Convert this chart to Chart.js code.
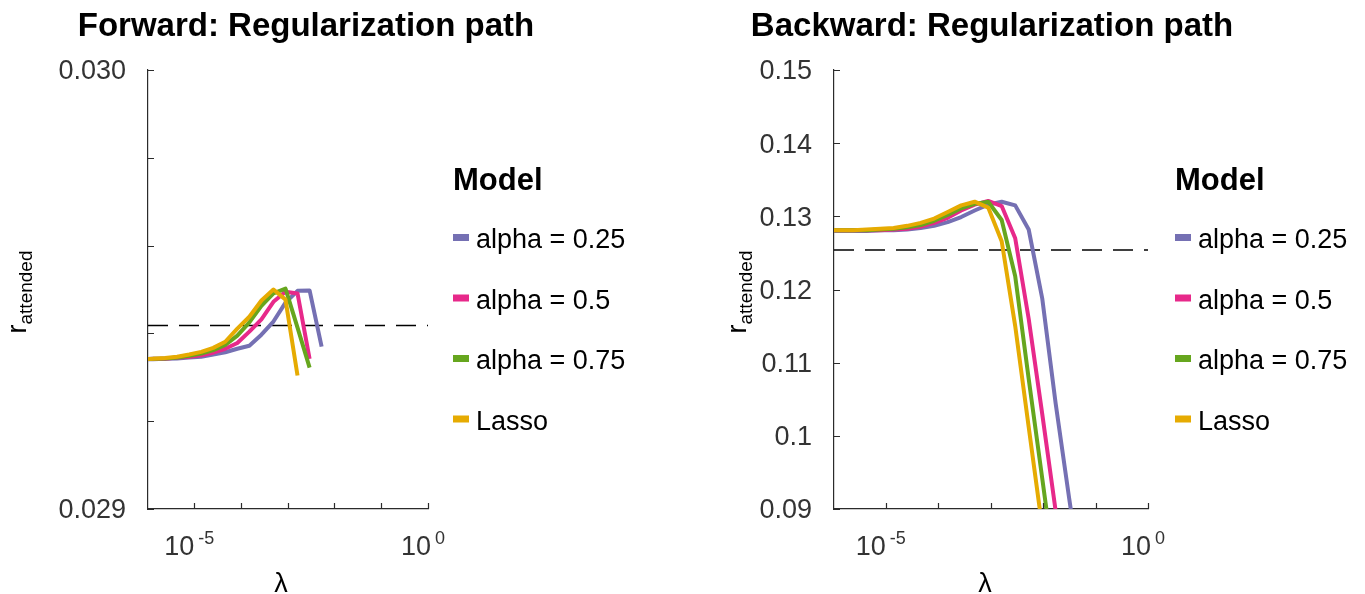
<!DOCTYPE html>
<html>
<head>
<meta charset="utf-8">
<title>Regularization path</title>
<script src="https://cdn.jsdelivr.net/npm/chart.js@4/dist/chart.umd.min.js"></script>
<style>
  html, body { margin: 0; padding: 0; background: #ffffff; }
  #wrap { position: relative; width: 1365px; height: 594px; overflow: hidden; }
  canvas { position: absolute; top: 0; }
  #forward { left: 0; }
  #backward { left: 682px; }
</style>
</head>
<body>
<div id="wrap">
  <canvas id="forward" width="682" height="594"></canvas>
  <canvas id="backward" width="683" height="594"></canvas>
</div>
<script>
// Regularization strengths (lambda) shared by every fitted path
const lambda = [7.30e-7, 1.318e-6, 2.388e-6, 4.315e-6, 7.816e-6, 1.413e-5, 2.559e-5, 4.624e-5,
                8.375e-5, 1.514e-4, 2.742e-4, 4.955e-4, 8.974e-4, 1.622e-3, 2.938e-3, 5.309e-3,
                9.616e-3, 1.738e-2, 3.148e-2, 5.689e-2];

const models = ['alpha = 0.25', 'alpha = 0.5', 'alpha = 0.75', 'Lasso'];
const modelColors = ['#7570B3', '#E7298A', '#66A61E', '#E6AB02'];

// Forward model: r_attended along the path
const forwardAlpha025 = [0.029341, 0.029341, 0.029342, 0.029343, 0.029345, 0.029347, 0.029352, 0.029357,
                         0.029365, 0.029372, 0.029397, 0.029427, 0.029470, 0.029497, 0.029498, 0.029370];
const forwardAlpha05  = [0.029341, 0.029342, 0.029342, 0.029345, 0.029347, 0.029350, 0.029356, 0.029365,
                         0.029378, 0.029404, 0.029432, 0.029472, 0.029495, 0.029491, 0.029342];
const forwardAlpha075 = [0.029341, 0.029342, 0.029343, 0.029345, 0.029349, 0.029354, 0.029362, 0.029374,
                         0.029395, 0.029425, 0.029463, 0.029491, 0.029502, 0.029413, 0.029322];
const forwardLasso    = [0.029341, 0.029342, 0.029344, 0.029347, 0.029352, 0.029358, 0.029367, 0.029381,
                         0.029411, 0.029438, 0.029475, 0.029500, 0.029477, 0.029304];
const forwardBaseline = 0.029418;

// Backward model: r_attended along the path
const backwardAlpha025 = [0.1280, 0.1280, 0.1280, 0.1280, 0.1281, 0.1281, 0.1282, 0.1284, 0.1287, 0.1292,
                          0.1299, 0.1308, 0.1316, 0.1320, 0.1315, 0.1282, 0.1188, 0.1044, 0.0914, 0.0789];
const backwardAlpha05  = [0.1281, 0.1281, 0.1281, 0.1281, 0.1281, 0.1282, 0.1283, 0.1286, 0.1291, 0.1298,
                          0.1308, 0.1316, 0.1321, 0.1314, 0.1270, 0.1160, 0.1030, 0.0897, 0.0763];
const backwardAlpha075 = [0.1281, 0.1281, 0.1281, 0.1281, 0.1282, 0.1283, 0.1285, 0.1288, 0.1294, 0.1302,
                          0.1311, 0.1317, 0.1320, 0.1295, 0.1218, 0.1078, 0.0942, 0.0806];
const backwardLasso    = [0.1281, 0.1281, 0.1281, 0.1282, 0.1283, 0.1284, 0.1287, 0.1291, 0.1297, 0.1306,
                          0.1315, 0.1320, 0.1312, 0.1266, 0.1150, 0.1012, 0.0875];
const backwardBaseline = 0.1254;

// Axis ticks and their labels
const xTicks = [1e-5, 1e-4, 1e-3, 1e-2, 1e-1, 1];
const xTickExponents = ['-5', '', '', '', '', '0'];
const xRange = [1.03e-6, 1];
const forwardYTicks = [0.029, 0.0292, 0.0294, 0.0296, 0.0298, 0.030];
const forwardYTickLabels = ['0.029', '', '', '', '', '0.030'];
const backwardYTicks = [0.09, 0.10, 0.11, 0.12, 0.13, 0.14, 0.15];
const backwardYTickLabels = ['0.09', '0.1', '0.11', '0.12', '0.13', '0.14', '0.15'];

const FONT = "'Liberation Sans', Arial, Helvetica, sans-serif";
const AXIS_COLOR = '#2b2b2b';
const TEXT_COLOR = '#333333';
const TICK_LEN = 6;

Chart.defaults.font.family = FONT;

function toPoints(values) {
  return values.map((v, i) => ({ x: lambda[i], y: v }));
}

// Axis decorations, titles and the "Model" key
const panelDecor = {
  id: 'panelDecor',
  afterDraw(chart, args, o) {
    const { ctx, chartArea: ca, scales } = chart;
    const xs = scales.x, ys = scales.y;
    ctx.save();

    // inward tick marks
    ctx.strokeStyle = AXIS_COLOR;
    ctx.lineWidth = 1.2;
    ctx.beginPath();
    ys.ticks.forEach(t => {
      const py = Math.round(ys.getPixelForValue(t.value)) + 0.5;
      ctx.moveTo(ca.left, py);
      ctx.lineTo(ca.left + TICK_LEN, py);
    });
    xs.ticks.forEach(t => {
      const px = Math.round(xs.getPixelForValue(t.value)) + 0.5;
      ctx.moveTo(px, ca.bottom);
      ctx.lineTo(px, ca.bottom - TICK_LEN);
    });
    ctx.stroke();

    // x tick labels written as powers of ten
    ctx.fillStyle = TEXT_COLOR;
    ctx.textBaseline = 'alphabetic';
    ctx.textAlign = 'left';
    xTicks.forEach((v, i) => {
      const e = xTickExponents[i];
      if (!e) return;
      const px = xs.getPixelForValue(v);
      ctx.font = '27px ' + FONT;
      const wBase = ctx.measureText('10').width;
      ctx.font = '18px ' + FONT;
      const wExp = ctx.measureText(e).width;
      const gap = 4;
      const left = px - 5 - (wBase + gap + wExp) / 2;
      ctx.font = '27px ' + FONT;
      ctx.fillText('10', left, 555);
      ctx.font = '18px ' + FONT;
      ctx.fillText(e, left + wBase + gap, 543.5);
    });

    // x axis title
    ctx.fillStyle = '#000';
    ctx.textAlign = 'center';
    ctx.font = '27px ' + FONT;
    ctx.fillText('\u03BB', o.xLabelX, 592);

    // y axis title: r with subscript
    ctx.save();
    ctx.translate(o.yLabelX, 292);
    ctx.rotate(-Math.PI / 2);
    ctx.textAlign = 'left';
    ctx.font = '27px ' + FONT;
    const wr = ctx.measureText('r').width;
    ctx.font = '19px ' + FONT;
    const ws = ctx.measureText('attended').width;
    const start = -(wr + ws) / 2;
    ctx.font = '27px ' + FONT;
    ctx.fillText('r', start, 0);
    ctx.font = '19px ' + FONT;
    ctx.fillText('attended', start + wr, 6);
    ctx.restore();

    // panel title
    ctx.textAlign = 'center';
    ctx.font = 'bold 33px ' + FONT;
    ctx.fillText(o.title, o.titleX, 36);

    // legend
    const lx = ca.right + o.legendOffset;
    ctx.textAlign = 'left';
    ctx.font = 'bold 31px ' + FONT;
    ctx.fillText('Model', lx, 190);
    ctx.font = '27px ' + FONT;
    chart.data.datasets.filter(d => d.label).forEach((d, i) => {
      const base = 248 + i * 60.5;
      ctx.fillStyle = d.borderColor;
      ctx.fillRect(lx, base - 14, 16, 7);
      ctx.fillStyle = '#000';
      ctx.fillText(d.label, lx + 23, base);
    });

    ctx.restore();
  }
};

function makePanel(canvasId, cfg) {
  const seriesSets = cfg.series.map((vals, i) => ({
    label: models[i],
    data: toPoints(vals),
    borderColor: modelColors[i],
    backgroundColor: modelColors[i],
    borderWidth: 4,
    pointRadius: 0,
    tension: 0,
    borderJoinStyle: 'round',
    clip: 0,
    order: 4 - i
  }));
  const baselineSet = {
    label: '',
    data: [{ x: xRange[0], y: cfg.baseline }, { x: xRange[1], y: cfg.baseline }],
    borderColor: '#000000',
    borderWidth: 1.3,
    borderDash: [20, 11],
    pointRadius: 0,
    clip: 0,
    order: 10
  };

  return new Chart(document.getElementById(canvasId), {
    type: 'line',
    data: { datasets: [...seriesSets, baselineSet] },
    plugins: [panelDecor],
    options: {
      responsive: false,
      animation: false,
      devicePixelRatio: 1,
      events: [],
      layout: { padding: { left: 0, top: 70, right: cfg.padRight, bottom: 0 } },
      plugins: {
        legend: { display: false },
        tooltip: { enabled: false },
        title: { display: false },
        panelDecor: {
          title: cfg.title,
          titleX: cfg.titleX,
          xLabelX: cfg.xLabelX,
          yLabelX: cfg.yLabelX,
          legendOffset: cfg.legendOffset
        }
      },
      scales: {
        x: {
          type: 'logarithmic',
          min: xRange[0],
          max: xRange[1],
          afterBuildTicks: s => { s.ticks = xTicks.map(v => ({ value: v })); },
          afterFit: s => { s.height = 85; },
          ticks: { display: false },
          grid: { display: false, drawTicks: false },
          border: { display: true, color: AXIS_COLOR, width: 1.2 }
        },
        y: {
          type: 'linear',
          min: cfg.yTicks[0],
          max: cfg.yTicks[cfg.yTicks.length - 1],
          afterBuildTicks: s => { s.ticks = cfg.yTicks.map(v => ({ value: v })); },
          afterFit: s => { s.width = cfg.yWidth; },
          ticks: {
            autoSkip: false,
            padding: 22,
            labelOffset: 2,
            color: TEXT_COLOR,
            font: { size: 27 },
            callback: (v, i) => cfg.yTickLabels[i]
          },
          grid: { display: false, drawTicks: false },
          border: { display: true, color: AXIS_COLOR, width: 1.2 }
        }
      }
    }
  });
}

makePanel('forward', {
  title: 'Forward: Regularization path',
  titleX: 306,
  xLabelX: 281,
  yLabelX: 26,
  legendOffset: 25,
  yWidth: 148,
  padRight: 682 - 428,
  yTicks: forwardYTicks,
  yTickLabels: forwardYTickLabels,
  baseline: forwardBaseline,
  series: [forwardAlpha025, forwardAlpha05, forwardAlpha075, forwardLasso]
});

makePanel('backward', {
  title: 'Backward: Regularization path',
  titleX: 310,
  xLabelX: 303,
  yLabelX: 63.5,
  legendOffset: 27,
  yWidth: 152,
  padRight: 683 - 466,
  yTicks: backwardYTicks,
  yTickLabels: backwardYTickLabels,
  baseline: backwardBaseline,
  series: [backwardAlpha025, backwardAlpha05, backwardAlpha075, backwardLasso]
});
</script>
</body>
</html>
